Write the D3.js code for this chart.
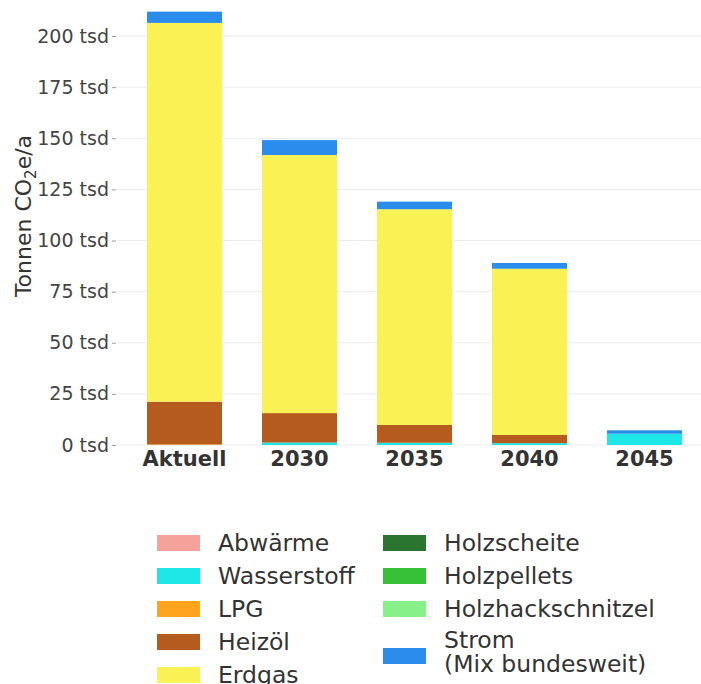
<!DOCTYPE html>
<html>
<head>
<meta charset="utf-8">
<script src="https://cdn.jsdelivr.net/npm/d3@7"></script>
<style>
  body { margin: 0; background: #fff; }
  text { font-family: "DejaVu Sans", sans-serif; }
</style>
</head>
<body>
<div id="chart"></div>
<script>
// data (tsd Tonnen CO2e/a)
var categories = ["Aktuell", "2030", "2035", "2040", "2045"];
var seriesNames = ["Abwärme", "Wasserstoff", "LPG", "Heizöl", "Erdgas",
    "Holzscheite", "Holzpellets", "Holzhackschnitzel", "Strom"];
var abwaerme = [0, 0, 0, 0, 0];
var wasserstoff = [0, 1.2, 1.1, 0.9, 5.5];
var lpg = [0.3, 0, 0, 0, 0];
var heizoel = [20.9, 14.4, 8.7, 4.0, 0];
var erdgas = [185.2, 126.2, 105.5, 81.3, 0];
var holzscheite = [0, 0, 0, 0, 0];
var holzpellets = [0, 0, 0, 0, 0];
var holzhack = [0, 0, 0, 0, 0];
var strom = [5.5, 7.3, 3.7, 2.8, 1.7];
var yTicks = [0, 25, 50, 75, 100, 125, 150, 175, 200];

var colors = ["#f4a29a", "#1ce6e6", "#ffa41c", "#b55b1d", "#faf155",
    "#2c7530", "#36c036", "#88f088", "#2a8ceb"];

var svgWidth = 701;
var svgHeight = 684;

var allSeries = [abwaerme, wasserstoff, lpg, heizoel, erdgas, holzscheite, holzpellets, holzhack, strom];
var table = categories.map(function(c, i) {
    var row = { cat: c };
    seriesNames.forEach(function(s, j) { row[s] = allSeries[j][i]; });
    return row;
});

var svg = d3.select("#chart")
    .append("svg")
    .attr("width", svgWidth)
    .attr("height", svgHeight);

var xScale = d3.scaleBand()
    .domain(categories)
    .range([127, 702])
    .paddingInner(0.348)
    .paddingOuter(0.174);

var yScale = d3.scaleLinear()
    .domain([0, 200])
    .range([445, 36]);

// gridlines
svg.append("g")
    .selectAll("line")
    .data(yTicks)
    .enter()
    .append("line")
    .attr("x1", 117)
    .attr("x2", 701)
    .attr("y1", d => yScale(d))
    .attr("y2", d => yScale(d))
    .attr("stroke", "#ececec")
    .attr("stroke-width", 1);

var leftAxis = d3.axisLeft(yScale)
    .tickValues(yTicks)
    .tickSize(4)
    .tickPadding(3)
    .tickFormat(d => d + " tsd");

var yAxis = svg.append("g")
    .attr("transform", "translate(116, 0)")
    .call(leftAxis);
yAxis.select(".domain").remove();
yAxis.selectAll("line").attr("stroke", "#9a9a9a");
yAxis.selectAll("text")
    .attr("font-size", "19px")
    .attr("fill", "#444")
    .attr("font-family", "DejaVu Sans");

var stack = d3.stack().keys(seriesNames);
var stacked = stack(table);

svg.append("g")
    .selectAll("g")
    .data(stacked)
    .enter()
    .append("g")
    .attr("fill", (d, i) => colors[i])
    .selectAll("rect")
    .data(d => d)
    .enter()
    .append("rect")
    .attr("x", d => xScale(d.data.cat))
    .attr("width", xScale.bandwidth())
    .attr("y", d => yScale(d[1]))
    .attr("height", d => yScale(d[0]) - yScale(d[1]));

// x labels
svg.append("g")
    .selectAll("text")
    .data(categories)
    .enter()
    .append("text")
    .attr("x", d => xScale(d) + xScale.bandwidth() / 2)
    .attr("y", 466)
    .attr("text-anchor", "middle")
    .attr("font-size", "21px")
    .attr("font-weight", "bold")
    .attr("fill", "#333")
    .text(d => d);

// y title
var yTitle = svg.append("text")
    .attr("transform", "translate(31, 216) rotate(-90)")
    .attr("text-anchor", "middle")
    .attr("font-size", "22px")
    .attr("fill", "#333");
yTitle.append("tspan").text("Tonnen CO");
yTitle.append("tspan").attr("font-size", "15px").attr("dy", "5").text("2");
yTitle.append("tspan").attr("dy", "-5").text("e/a");

// legend
var legendItems = seriesNames.map(function(s, i) {
    return { name: s, color: colors[i], col: i < 5 ? 0 : 1, row: i < 5 ? i : i - 5 };
});
var legend = svg.append("g");
legendItems.forEach(function(d) {
    var x = d.col === 0 ? 157 : 383;
    var cy = 543 + d.row * 33;
    if (d.name === "Strom") cy = 656;
    legend.append("rect")
        .attr("x", x)
        .attr("y", cy - 8)
        .attr("width", 43)
        .attr("height", 16)
        .attr("fill", d.color);
    var t = legend.append("text")
        .attr("x", x + 61)
        .attr("font-size", "23.5px")
        .attr("fill", "#333");
    if (d.name === "Strom") {
        t.attr("y", cy - 8);
        t.append("tspan").attr("x", x + 61).text("Strom");
        t.append("tspan").attr("x", x + 61).attr("dy", 24).text("(Mix bundesweit)");
    } else {
        t.attr("y", cy + 8).text(d.name);
    }
});
</script>
</body>
</html>
